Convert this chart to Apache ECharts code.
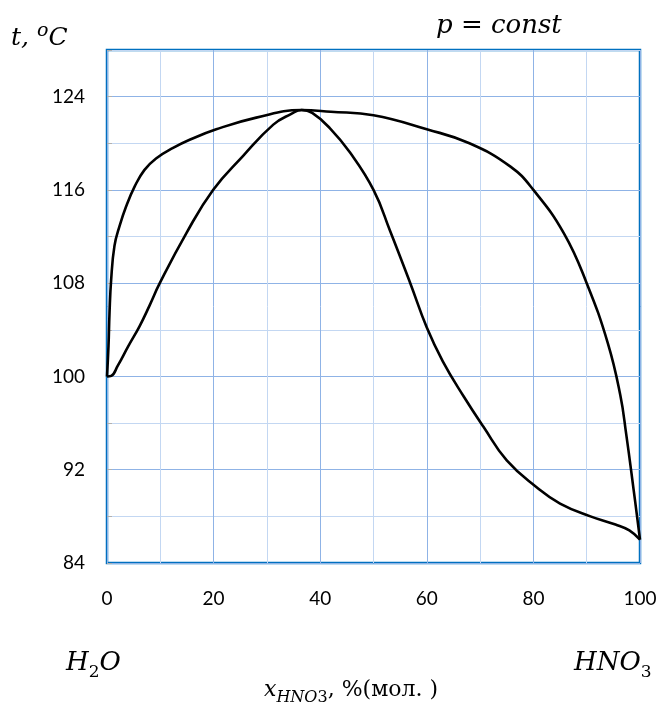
<!DOCTYPE html>
<html lang="ru">
<head>
<meta charset="UTF-8">
<title>t-x HNO3</title>
<script src="https://cdn.jsdelivr.net/npm/echarts@6/dist/echarts.min.js"></script>
<style>
  html, body {margin: 0; padding: 0; background: #fff;}
  #main {width: 663px; height: 717px;}
</style>
</head>
<body>
<div id="main"></div>
<script>
// кривая кипения (жидкость)
var xLiquid = [0, 0.8, 2, 4, 6.1, 8, 9.9, 14.9, 19.9, 25.5, 31.2, 34.5, 36.5, 38.5, 41.8, 45.6, 50, 53.1, 56.9, 60, 63, 66.9, 70.6, 75, 80.6, 85, 90.7, 95.4, 98, 100];
var tLiquid = [100, 100.05, 100.9, 102.6, 104.3, 106.1, 108, 112.3, 116, 118.9, 121.6, 122.5, 122.85, 122.6, 121.3, 119.2, 116, 112.5, 108, 104.2, 101.3, 98.3, 95.7, 92.8, 90.5, 89.1, 88, 87.3, 86.8, 86];
// кривая конденсации (пар)
var xVapor = [0, 0.28, 0.47, 0.78, 1.4, 2.35, 3.6, 5.2, 7, 9.2, 12.4, 15.5, 20.5, 28, 36.5, 42, 50, 60, 68, 75.7, 80, 85.7, 90, 94, 96.3, 97.4, 98.8, 100];
var tVapor = [100, 102.6, 105.4, 108.3, 111.2, 112.9, 114.6, 116.3, 117.7, 118.7, 119.6, 120.3, 121.2, 122.2, 122.85, 122.7, 122.4, 121.2, 120, 118, 116, 112.3, 108, 102.8, 98.4, 95.1, 90.3, 86];
// подписи осей
var yTicks = [84, 92, 100, 108, 116, 124];
var xTicks = [0, 20, 40, 60, 80, 100];

function pairs(xs, ys) {
    return xs.map(function (x, i) { return [x, ys[i]]; });
}

// формулы с индексами: [текст, 0 обычный / 1 нижний / 2 верхний, курсив]
var ctx = document.createElement('canvas').getContext('2d');
var FF = '"DejaVu Serif"';
function fontOf(size, it) { return (it ? 'italic ' : '') + size + 'px ' + FF; }
function formula(parts, x, y, size, ratio) {
    var els = [], cx = x;
    ratio = ratio || 0.66;
    parts.forEach(function (p) {
        var s = p[1] ? Math.round(size * ratio) : size;
        var f = fontOf(s, p[2]);
        // выравнивание по базовой линии (middle ~ baseline - 0.3em)
        var base = y + (p[1] === 1 ? size * 0.25 : p[1] === 2 ? -size * 0.38 : 0);
        els.push({
            type: 'text', x: cx, y: base - 0.3 * s,
            style: {text: p[0], font: f, fill: '#000', textAlign: 'left', textVerticalAlign: 'middle'}
        });
        ctx.font = f;
        cx += ctx.measureText(p[0]).width;
    });
    return els;
}

var texts = [].concat(
    formula([['t,', 0, true], [' ', 0, false], ['o', 2, true], ['C', 0, true]], 11, 46, 25, 0.75),
    formula([['p = const', 0, true]], 436, 34, 26),
    formula([['H', 0, true], ['2', 1, false], ['O', 0, true]], 66, 671, 26),
    formula([['HNO', 0, true], ['3', 1, false]], 574, 671, 26),
    formula([['x', 0, true], ['HNO', 1, true], ['3', 1, false], [', %(мол. )', 0, false]], 264, 697, 22, 0.72)
);

var myChart = echarts.init(document.getElementById('main'));
var option = {
    animation: false,
    backgroundColor: '#fff',
    grid: {
        left: 107, top: 50, right: 23, bottom: 154,
        show: true, borderColor: '#0070c0', borderWidth: 2.5, backgroundColor: 'transparent'
    },
    xAxis: {
        type: 'value', min: 0, max: 100, interval: 10,
        axisLine: {show: false},
        axisTick: {show: false},
        axisLabel: {
            margin: 26, color: '#000', fontFamily: 'Lato', fontSize: 19,
            formatter: function (v) { return xTicks.indexOf(v) >= 0 ? String(v) : ''; }
        },
        splitLine: {show: true, lineStyle: {color: ['#8fb3e6', '#c3d7f2'], width: 1}}
    },
    yAxis: {
        type: 'value', min: 84, max: 128, interval: 4,
        axisLine: {show: false},
        axisTick: {show: true, inside: true, length: 5, lineStyle: {color: '#b0b0b0'}},
        axisLabel: {
            margin: 22, color: '#000', fontFamily: 'Lato', fontSize: 19,
            formatter: function (v) { return yTicks.indexOf(v) >= 0 ? String(v) : ''; }
        },
        splitLine: {show: true, lineStyle: {color: ['#8fb3e6', '#c3d7f2'], width: 1}}
    },
    series: [
        {
            name: 'liquid', type: 'line', data: pairs(xLiquid, tLiquid),
            showSymbol: false, smooth: 0.45,
            lineStyle: {color: '#000', width: 2.6}
        },
        {
            name: 'vapor', type: 'line', data: pairs(xVapor, tVapor),
            showSymbol: false, smooth: 0.45,
            lineStyle: {color: '#000', width: 2.6}
        }
    ],
    graphic: texts
};
myChart.setOption(option);
</script>
</body>
</html>
